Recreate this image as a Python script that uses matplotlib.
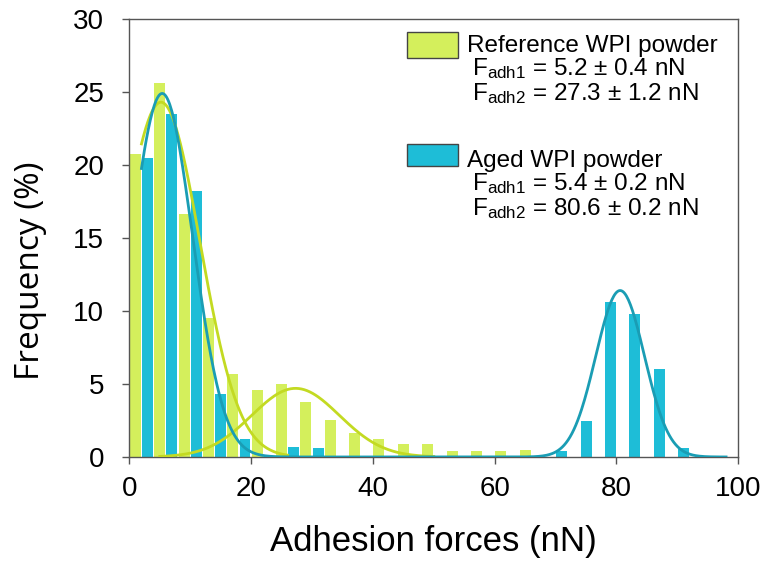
import numpy as np
import matplotlib
matplotlib.use('Agg')
import matplotlib.pyplot as plt
from matplotlib.patches import Rectangle

plt.rcParams['font.family'] = ['Liberation Sans', 'DejaVu Sans']
plt.rcParams['mathtext.fontset'] = 'custom'
plt.rcParams['mathtext.rm'] = 'Liberation Sans'
plt.rcParams['mathtext.it'] = 'Liberation Sans'

# histogram bins (nN), 4 nN per pair of bars
ref_left = [0, 4, 8, 12, 16, 20, 24, 28, 32, 36, 40, 44, 48, 52, 56, 60, 64]
ref_freq = [20.75, 25.6, 16.65, 9.5, 5.7, 4.6, 5.0, 3.75, 2.5, 1.65, 1.2, 0.9, 0.9, 0.4, 0.4, 0.4, 0.45]
aged_left = [2, 6, 10, 14, 18, 22, 26, 30, 70, 74, 78, 82, 86, 90]
aged_freq = [20.5, 23.5, 18.25, 4.3, 1.2, 0.1, 0.65, 0.6, 0.4, 2.45, 10.6, 9.8, 6.0, 0.6]

# gaussian fits: (height, mean, sigma)
ref_fit1 = (24.3, 5.2, 6.4)
ref_fit2 = (4.7, 27.3, 7.2)
aged_fit1 = (24.9, 5.4, 5.0)
aged_fit2 = (11.4, 80.6, 4.0)

ref_labels = ['Reference WPI powder', r'F$_{\mathrm{adh1}}$ = 5.2 ± 0.4 nN', r'F$_{\mathrm{adh2}}$ = 27.3 ± 1.2 nN']
aged_labels = ['Aged WPI powder', r'F$_{\mathrm{adh1}}$ = 5.4 ± 0.2 nN', r'F$_{\mathrm{adh2}}$ = 80.6 ± 0.2 nN']

c_ref = '#d4ef5c'
c_ref_line = '#c3da22'
c_aged = '#1ebdd7'
c_aged_line = '#1a9db4'


def gauss(x, p):
    h, m, s = p
    return h * np.exp(-(x - m) ** 2 / (2 * s ** 2))


fig = plt.figure(figsize=(7.66, 5.65), dpi=100)
ax = fig.add_axes([0.1688, 0.1912, 0.795, 0.7752])

ax.bar(np.array(ref_left) + 0.1, ref_freq, width=1.8, align='edge', color=c_ref, zorder=2)
ax.bar(np.array(aged_left) + 0.1, aged_freq, width=1.8, align='edge', color=c_aged, zorder=2)

x1 = np.linspace(2, 26, 200)
x2 = np.linspace(5, 50, 200)
ax.plot(x1, gauss(x1, ref_fit1), color=c_ref_line, lw=2, zorder=3)
ax.plot(x2, gauss(x2, ref_fit2), color=c_ref_line, lw=2, zorder=3)
xb = np.linspace(2, 98, 600)
ax.plot(xb, gauss(xb, aged_fit1) + gauss(xb, aged_fit2), color=c_aged_line, lw=2, zorder=4)

ax.set_xlim(0, 100)
ax.set_ylim(0, 30)
ax.set_xticks([0, 20, 40, 60, 80, 100])
ax.set_yticks([0, 5, 10, 15, 20, 25, 30])
ax.tick_params(labelsize=20, color='#555555', length=5, width=1)
ax.tick_params(axis='y', pad=13)
ax.tick_params(axis='x', pad=9)
for s in ax.spines.values():
    s.set_color('#555555')
    s.set_linewidth(1)

ax.set_xlabel('Adhesion forces (nN)', fontsize=25, labelpad=16)
ax.set_ylabel('Frequency (%)', fontsize=24, family=['Open Sans', 'DejaVu Sans'])
ax.yaxis.set_label_coords(-0.135, 0.425)

# legend drawn by hand
ax.add_patch(Rectangle((45.6, 27.3), 8.4, 1.78, facecolor=c_ref, edgecolor='#444444', lw=1, zorder=5))
ax.add_patch(Rectangle((45.6, 19.95), 8.4, 1.5, facecolor=c_aged, edgecolor='#444444', lw=1, zorder=5))
ref_y = [27.76, 26.17, 24.47]
aged_y = [19.89, 18.29, 16.58]
for i in range(3):
    xi = 55.5 if i == 0 else 56.2
    ax.text(xi, ref_y[i], ref_labels[i], fontsize=17.5, va='baseline', ha='left', zorder=5)
    ax.text(xi, aged_y[i], aged_labels[i], fontsize=17.5, va='baseline', ha='left', zorder=5)

fig.savefig('out.png', dpi=100)
